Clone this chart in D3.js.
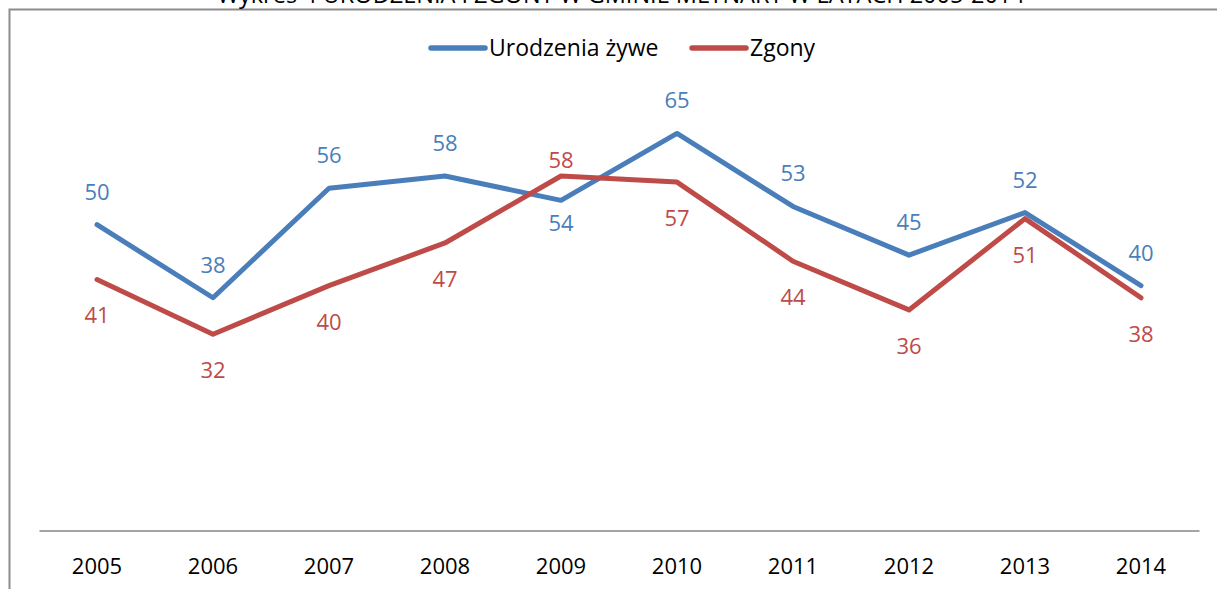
<!DOCTYPE html>
<html>
<head>
<meta charset="utf-8">
<script src="https://cdn.jsdelivr.net/npm/d3@7"></script>
<style>
  body { margin: 0; background: #fff; }
  svg { display: block; font-family: "Open Sans", sans-serif; }
</style>
</head>
<body>
<div id="chart"></div>
<script>
const title = "Wykres 4 URODZENIA I ZGONY W GMINIE MŁYNARY W LATACH 2005-2014"
const years = ["2005", "2006", "2007", "2008", "2009", "2010", "2011", "2012", "2013", "2014"]
const births = [50, 38, 56, 58, 54, 65, 53, 45, 52, 40]
const deaths = [41, 32, 40, 47, 58, 57, 44, 36, 51, 38]
const seriesNames = ["Urodzenia żywe", "Zgony"]

const width = 1217
const height = 589
const colors = ["#4a7ebb", "#be4b48"]

const svg = d3.select("#chart").append("svg")
  .attr("width", width)
  .attr("height", height)

// frame (runs past the right/bottom edge like the cropped original)
svg.append("rect")
  .attr("x", 9.5).attr("y", 9.5)
  .attr("width", width + 20).attr("height", height + 20)
  .attr("fill", "none")
  .attr("stroke", "#8c8c8c")
  .attr("stroke-width", 2)

// title sits above the frame, cropped at the top like the source image
svg.append("text")
  .attr("x", 621).attr("y", 2.5)
  .attr("text-anchor", "middle")
  .attr("font-size", 23.5)
  .attr("fill", "#000")
  .text(title)

const x = d3.scaleBand(years, [39, 1199])
const y = d3.scaleLinear([0, 70], [529, 103])
const cx = d => x(d) + x.bandwidth() / 2

// x axis
const axis = svg.append("g")
  .attr("transform", `translate(0,${y(0) + 1.5})`)
  .call(d3.axisBottom(x).tickSize(0).tickSizeOuter(0))
axis.select(".domain").attr("stroke", "#868686").attr("stroke-width", 1.5)
axis.selectAll("text")
  .attr("font-family", "'Open Sans', sans-serif")
  .attr("font-size", 22)
  .attr("fill", "#000")
  .attr("y", 43).attr("dy", 0)

const series = [
  {name: seriesNames[0], values: births, color: colors[0], place: "above"},
  {name: seriesNames[1], values: deaths, color: colors[1], place: "below"}
]

const line = d3.line()
  .x(d => cx(d[0]))
  .y(d => y(d[1]))

svg.append("g")
  .attr("fill", "none")
  .attr("stroke-width", 5)
  .attr("stroke-linejoin", "round")
  .attr("stroke-linecap", "round")
  .selectAll("path")
  .data(series)
  .join("path")
    .attr("stroke", s => s.color)
    .attr("d", s => line(d3.zip(years, s.values)))

// labels: blue sits above, red below; where the lines cross (2009) they swap
const labelDy = (s, year) => {
  if (year === "2009") return s.place === "above" ? 31 : -8
  return s.place === "above" ? -25 : 44
}

svg.append("g")
  .attr("font-size", 22)
  .attr("text-anchor", "middle")
  .selectAll("g")
  .data(series)
  .join("g")
    .attr("fill", s => s.color)
    .call(g => g.selectAll("text")
      .data(s => s.values.map((v, i) => ({s, v, year: years[i]})))
      .join("text")
        .attr("x", d => cx(d.year))
        .attr("y", d => y(d.v) + labelDy(d.s, d.year))
        .text(d => d.v))

// legend
const legend = svg.append("g")
  .attr("font-size", 23)
const legendX = [431, 692]
legend.selectAll("g")
  .data(series)
  .join("g")
    .attr("transform", (s, i) => `translate(${legendX[i]},48)`)
    .call(g => g.append("line")
      .attr("x2", 54)
      .attr("stroke", s => s.color)
      .attr("stroke-width", 5.5)
      .attr("stroke-linecap", "round"))
    .call(g => g.append("text")
      .attr("x", 58)
      .attr("y", 8)
      .attr("fill", "#000")
      .text(s => s.name))
</script>
</body>
</html>
